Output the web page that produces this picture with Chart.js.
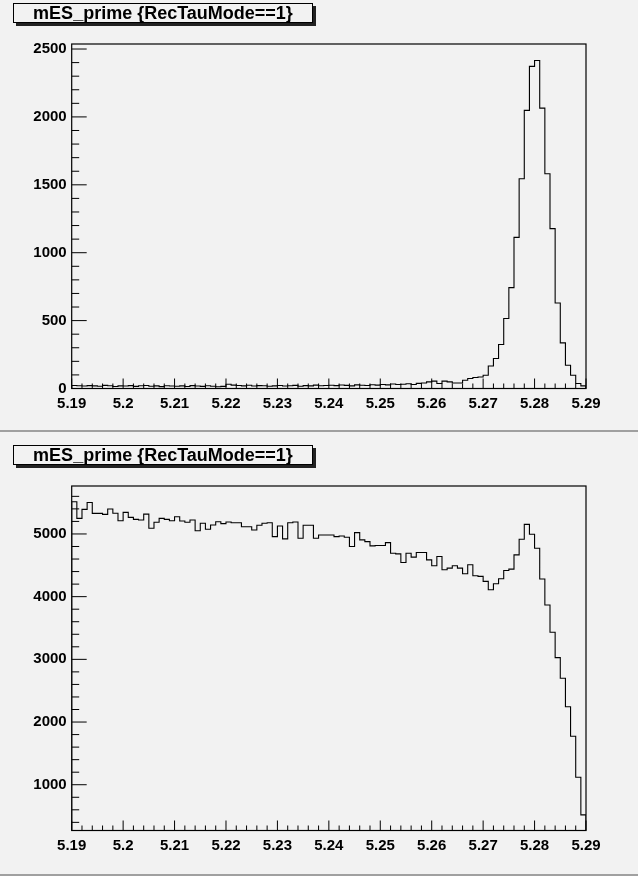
<!DOCTYPE html>
<html>
<head>
<meta charset="utf-8">
<script src="https://cdn.jsdelivr.net/npm/chart.js@4.4.0/dist/chart.umd.min.js"></script>
<style>
  html, body { margin: 0; padding: 0; background: #f2f2f2; }
  #page { position: relative; width: 638px; height: 876px; overflow: hidden; background: #f2f2f2; }
  .pad { position: absolute; left: 0; width: 638px; height: 438px; }
  .pad canvas { position: absolute; left: 0; top: 0; }
  .title {
    position: absolute; left: 13px; top: 3px; width: 298px; height: 18px;
    border: 1px solid #000; box-shadow: 3px 3px 0 #222;
    background: #f2f2f2; color: #000; text-align: center; white-space: nowrap;
    font: bold 18px "Liberation Sans", Arial, sans-serif; line-height: 18px;
  }
  .edge { position: absolute; left: 0; width: 638px; height: 2px; background: #a0a0a0; }
</style>
</head>
<body>
<div id="page">
  <div class="pad" style="top:0px">
    <canvas id="topChart" width="638" height="438"></canvas>
    <div class="title">mES_prime {RecTauMode==1}</div>
  </div>
  <div class="edge" style="top:430px"></div>
  <div class="pad" style="top:442px">
    <canvas id="bottomChart" width="638" height="438"></canvas>
    <div class="title">mES_prime {RecTauMode==1}</div>
  </div>
  <div class="edge" style="top:874px"></div>
</div>
<script>
// Binning of mES_prime (GeV): 100 bins from 5.19 to 5.29
const binLow = 5.19;
const binWidth = 0.001;

// Axis ticks and their labels
const xTickValues = [5.19, 5.20, 5.21, 5.22, 5.23, 5.24, 5.25, 5.26, 5.27, 5.28, 5.29];
const xTickLabels = ['5.19', '5.2', '5.21', '5.22', '5.23', '5.24', '5.25', '5.26', '5.27', '5.28', '5.29'];
const topYTicks = [0, 500, 1000, 1500, 2000, 2500];
const topYLabels = ['0', '500', '1000', '1500', '2000', '2500'];
const bottomYTicks = [1000, 2000, 3000, 4000, 5000];
const bottomYLabels = ['1000', '2000', '3000', '4000', '5000'];

// Upper histogram: entries per bin
const topCounts = [
  22, 20, 18, 21, 19, 17, 23, 20, 15, 19,
  18, 21, 16, 20, 22, 17, 19, 14, 20, 18,
  17, 19, 15, 21, 18, 16, 20, 17, 13, 16,
  31, 25, 22, 19, 24, 18, 21, 20, 17, 19,
  22, 18, 20, 23, 17, 21, 19, 25, 20, 22,
  24, 21, 26, 23, 19, 27, 24, 22, 28, 25,
  30, 27, 33, 29, 31, 35, 30, 38, 41, 49,
  54, 37, 54, 49, 41, 41, 61, 74, 81, 85,
  98, 166, 221, 324, 515, 743, 1113, 1545, 2048, 2372,
  2416, 2065, 1582, 1177, 630, 336, 171, 98, 37, 19
];

// Lower histogram: entries per bin
const bottomCounts = [
  5513, 5249, 5392, 5503, 5328, 5328, 5312, 5397, 5330, 5211,
  5344, 5265, 5233, 5222, 5317, 5090, 5186, 5249, 5233, 5211,
  5275, 5206, 5186, 5222, 5052, 5170, 5075, 5143, 5195, 5165,
  5190, 5180, 5180, 5116, 5116, 5063, 5138, 5170, 5180, 4958,
  5127, 4921, 5180, 5190, 4931, 5138, 5138, 4931, 4984, 4984,
  4984, 4958, 4968, 4947, 4799, 5021, 4905, 4878, 4810, 4815,
  4815, 4862, 4693, 4683, 4545, 4693, 4630, 4704, 4704, 4587,
  4492, 4640, 4429, 4455, 4492, 4455, 4365, 4508, 4333, 4323,
  4243, 4111, 4206, 4286, 4418, 4439, 4667, 4915, 5153, 4995,
  4773, 4281, 3868, 3433, 3027, 2698, 2243, 1773, 1120, 520
];

// Step outline of a histogram: points at the bin low edges, closed down to zero at both ends
function outline(counts) {
  const pts = [{ x: binLow, y: 0 }];
  counts.forEach((c, i) => pts.push({ x: binLow + i * binWidth, y: c }));
  const hi = binLow + counts.length * binWidth;
  pts.push({ x: hi, y: counts[counts.length - 1] });
  pts.push({ x: hi, y: 0 });
  return pts;
}

// Frame box plus inward tick marks on the x and y axes
const frameTicks = {
  id: 'frameTicks',
  afterDatasetsDraw(chart, args, opts) {
    const { ctx, chartArea: a, scales } = chart;
    const xs = scales.x, ys = scales.y;
    ctx.save();
    ctx.strokeStyle = '#000';
    ctx.lineWidth = 1;
    ctx.beginPath();
    const maj = opts.xMajor;
    for (let i = 0; i < maj.length; i++) {
      const px = xs.getPixelForValue(maj[i]);
      ctx.moveTo(px, a.bottom);
      ctx.lineTo(px, a.bottom - 10);
      if (i < maj.length - 1) {
        for (let k = 1; k < 5; k++) {
          const qx = xs.getPixelForValue(maj[i] + (maj[i + 1] - maj[i]) * k / 5);
          ctx.moveTo(qx, a.bottom);
          ctx.lineTo(qx, a.bottom - 5);
        }
      }
    }
    const step = opts.yMinor;
    for (let n = Math.ceil(ys.min / step); n * step <= ys.max; n++) {
      const v = n * step;
      const py = ys.getPixelForValue(v);
      const len = (v % opts.yMajor === 0) ? 15 : 7.5;
      ctx.moveTo(a.left, py);
      ctx.lineTo(a.left + len, py);
    }
    ctx.stroke();
    ctx.lineWidth = 1.2;
    ctx.strokeRect(a.left, a.top, a.right - a.left, a.bottom - a.top);
    ctx.restore();
  }
};

const labelFont = { family: '"Liberation Sans", Arial, sans-serif', weight: 'bold', size: 15 };

function makeChart(id, counts, yMin, yMax, yTicks, yLabels, yMinor, yMajor) {
  return new Chart(document.getElementById(id), {
    type: 'line',
    data: {
      datasets: [{
        data: outline(counts),
        stepped: 'before',
        borderColor: '#000',
        borderWidth: 1.1,
        pointRadius: 0,
        fill: false,
        tension: 0
      }]
    },
    options: {
      responsive: false,
      animation: false,
      devicePixelRatio: 1,
      parsing: false,
      layout: { padding: { top: 44, right: 52, left: 0, bottom: 0 } },
      plugins: {
        legend: { display: false },
        tooltip: { enabled: false },
        title: { display: false },
        frameTicks: { xMajor: xTickValues, yMinor: yMinor, yMajor: yMajor }
      },
      scales: {
        x: {
          type: 'linear', min: 5.19, max: 5.29,
          afterBuildTicks: s => { s.ticks = xTickValues.map(v => ({ value: v })); },
          afterFit: s => { s.height = 49.5; },
          ticks: {
            callback: (v, i) => xTickLabels[i],
            font: labelFont, color: '#000', padding: 6,
            maxRotation: 0, autoSkip: false
          },
          grid: { display: false, drawTicks: false },
          border: { display: false }
        },
        y: {
          type: 'linear', min: yMin, max: yMax,
          afterBuildTicks: s => { s.ticks = yTicks.map(v => ({ value: v })); },
          afterFit: s => { s.width = 71.7; },
          ticks: {
            callback: (v, i) => yLabels[i],
            font: labelFont, color: '#000', padding: 5, autoSkip: false
          },
          grid: { display: false, drawTicks: false },
          border: { display: false }
        }
      }
    },
    plugins: [frameTicks]
  });
}

makeChart('topChart', topCounts, 0, 2537, topYTicks, topYLabels, 100, 500);
makeChart('bottomChart', bottomCounts, 270, 5765, bottomYTicks, bottomYLabels, 200, 1000);
</script>
</body>
</html>
